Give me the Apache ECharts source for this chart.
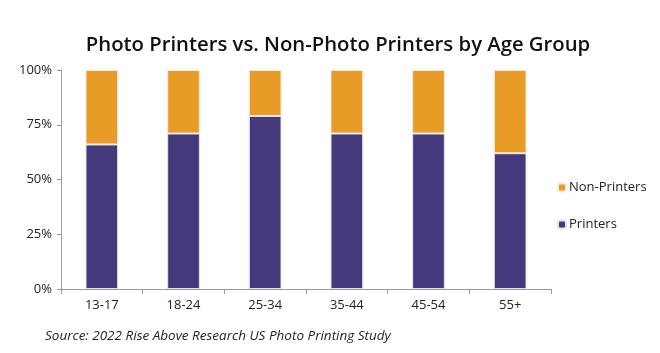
<!DOCTYPE html>
<html>
<head>
<meta charset="utf-8">
<script src="https://cdn.jsdelivr.net/npm/echarts@6/dist/echarts.min.js"></script>
<style>
  html, body { margin: 0; padding: 0; background: #fff; }
  #main { width: 660px; height: 353px; }
</style>
</head>
<body>
<div id="main"></div>
<script>
  // data
  var ageGroups = ['13-17', '18-24', '25-34', '35-44', '45-54', '55+'];
  var printers = [66, 71, 79, 71, 71, 62];
  var nonPrinters = [34, 29, 21, 29, 29, 38];
  var yTicks = [0, 25, 50, 75, 100];

  var chart = echarts.init(document.getElementById('main'));

  chart.setOption({
    animation: false,
    textStyle: { fontFamily: 'Open Sans' },
    title: [
      {
        text: 'Photo Printers vs. Non-Photo Printers by Age Group',
        left: 333,
        top: 30,
        textAlign: 'center',
        textStyle: { fontSize: 20.3, fontWeight: 600, color: '#111', fontFamily: 'Open Sans' }
      },
      {
        text: 'Source: 2022 Rise Above Research US Photo Printing Study',
        left: 40,
        top: 324,
        textStyle: { fontSize: 13.5, fontStyle: 'italic', fontWeight: 'normal', color: '#222', fontFamily: 'Open Sans' }
      }
    ],
    legend: {
      orient: 'vertical',
      left: 552,
      top: 176,
      itemWidth: 8,
      itemHeight: 8,
      itemGap: 24,
      data: ['Non-Printers', 'Printers'],
      textStyle: { fontSize: 13, color: '#222', padding: [0, 0, 0, -2] }
    },
    grid: { left: 61, right: 109, top: 70, bottom: 64 },
    xAxis: {
      type: 'category',
      data: ageGroups,
      axisLine: { lineStyle: { color: '#999' } },
      axisTick: { show: true, length: 5, lineStyle: { color: '#999' } },
      axisLabel: { color: '#222', fontSize: 13, margin: 10 }
    },
    yAxis: {
      type: 'value',
      min: 0,
      max: 100,
      interval: 25,
      axisLine: { show: true, lineStyle: { color: '#999' } },
      axisTick: { show: true, length: 4, lineStyle: { color: '#999' } },
      splitLine: { show: false },
      axisLabel: {
        color: '#222',
        fontSize: 13,
        margin: 9,
        formatter: function (v) { return yTicks.indexOf(v) >= 0 ? v + '%' : ''; }
      }
    },
    series: [
      {
        name: 'Printers',
        type: 'bar',
        stack: 'total',
        barWidth: '40%',
        data: printers,
        itemStyle: { color: '#44397a', borderColor: '#e4e2ee', borderWidth: 1 }
      },
      {
        name: 'Non-Printers',
        type: 'bar',
        stack: 'total',
        barWidth: '40%',
        data: nonPrinters,
        itemStyle: { color: '#e89b27', borderColor: '#f6ead8', borderWidth: 1 }
      }
    ]
  });
</script>
</body>
</html>
